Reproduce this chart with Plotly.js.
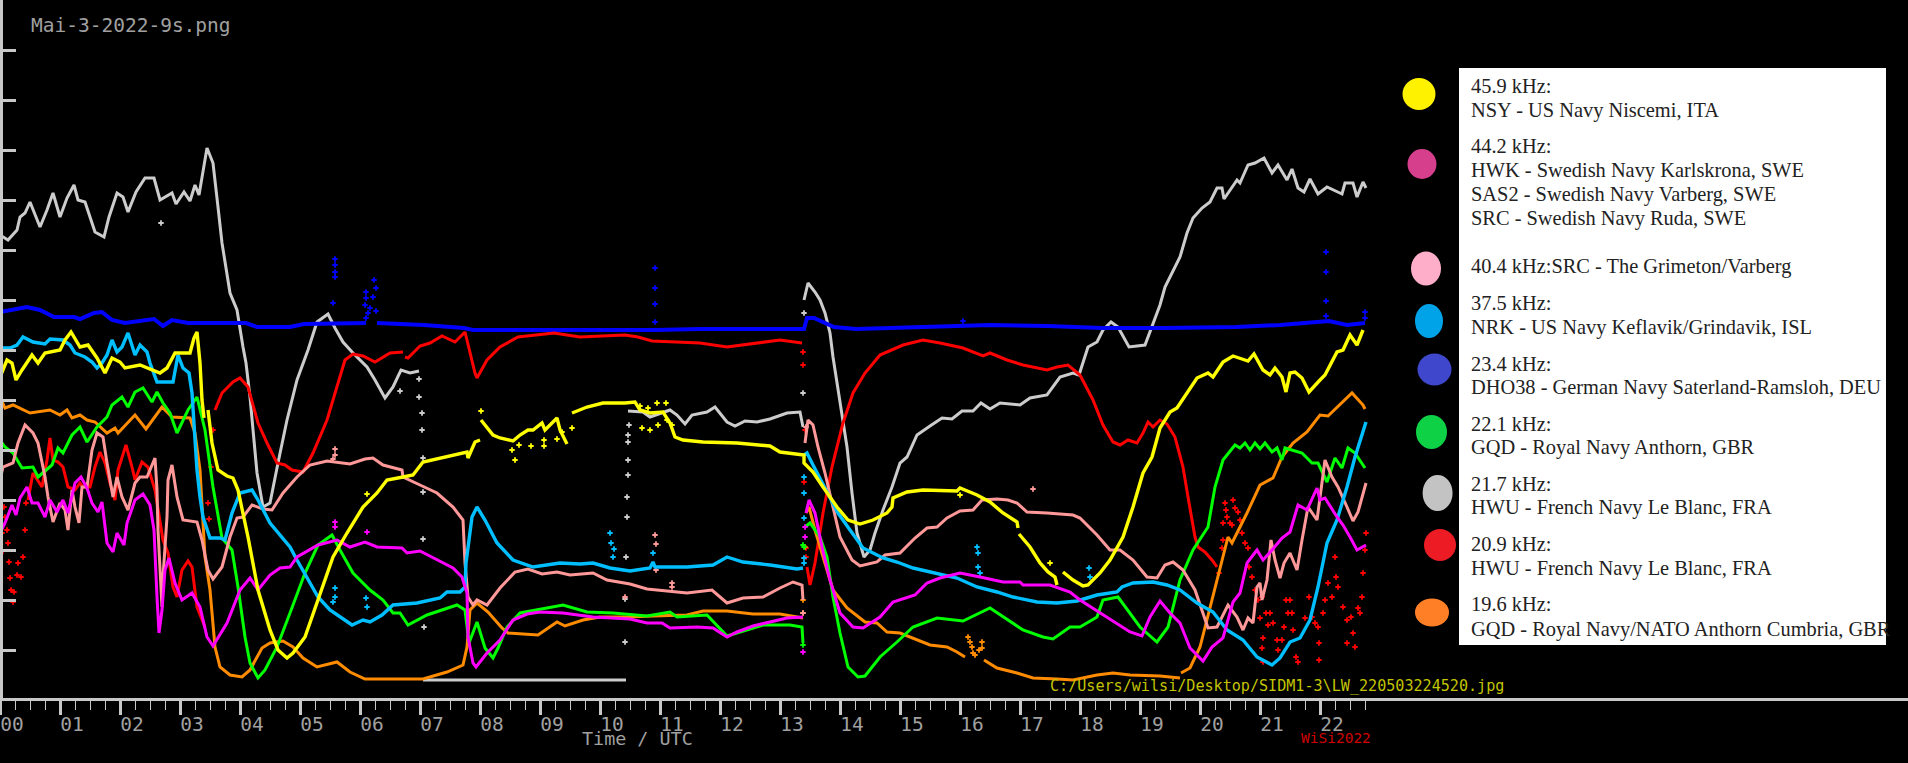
<!DOCTYPE html>
<html><head><meta charset="utf-8">
<script src="https://cdn.plot.ly/plotly-3.0.1.min.js"></script>
<style>html,body{margin:0;padding:0;background:#000;overflow:hidden}#c{width:1908px;height:763px}</style>
</head><body><div id="c"></div>
<script>
// Each point: [minutes UTC, relative signal level]
const hwu21_7 = [[0,465],[8,460],[17,470],[20,483],[25,487],[30,498],[40,473],[47,490],[53,507],[60,483],[67,502],[74,515],[78,500],[85,498],[95,468],[104,463],[109,483],[117,507],[123,503],[128,488],[136,508],[145,522],[154,522],[160,500],[172,507],[176,496],[184,508],[190,499],[195,515],[199,505],[207,552],[213,537],[218,493],[222,457],[230,407],[237,390],[243,353],[246,337],[250,303],[253,270],[257,227],[263,193],[270,197],[278,237],[287,280],[297,320],[308,350],[317,378],[328,386],[335,372],[343,358],[353,347],[367,333],[375,320],[385,302],[393,313],[401,330],[410,327],[419,329],[423,null],[423,20],[626,20],[627,null],[628,289],[643,288],[650,283],[670,290],[677,285],[685,276],[692,285],[707,288],[715,293],[727,278],[735,274],[745,279],[757,278],[770,281],[787,287],[800,288],[803,273],[803.5,null],[804,400],[808,417],[815,408],[820,400],[825,387],[830,367],[833,343],[838,310],[842,287],[847,253],[852,207],[857,167],[864,143],[870,150],[875,167],[883,190],[892,213],[900,237],[907,243],[917,265],[930,274],[942,282],[952,281],[962,289],[973,289],[981,297],[990,291],[1000,297],[1020,295],[1030,302],[1047,305],[1060,323],[1073,327],[1079,325],[1088,353],[1097,358],[1103,370],[1111,378],[1118,373],[1129,353],[1145,355],[1152,373],[1160,395],[1165,413],[1172,427],[1180,443],[1187,467],[1193,482],[1202,492],[1210,498],[1217,512],[1222,512],[1224,501],[1232,512],[1237,520],[1240,517],[1248,535],[1255,537],[1264,542],[1272,527],[1278,535],[1287,520],[1292,531],[1298,512],[1304,508],[1310,521],[1318,506],[1327,513],[1342,506],[1345,517],[1353,517],[1357,503],[1363,518],[1366,512]];
const hwu21_7Stray = [[419,321],[419,303],[422,287],[422,270],[423,242],[423,208],[423,161],[424,73],[400,309],[161,477],[627,183],[627,203],[628,225],[628,240],[628,258],[628,265],[629,275],[625,58],[625,101],[626,143],[803,307],[804,387]];

const dho23_4 = [[0,388],[27,393],[40,390],[54,383],[74,383],[80,381],[94,387],[102,388],[112,380],[125,377],[154,381],[163,374],[172,380],[188,377],[219,377],[246,377],[257,373],[290,373],[304,376],[366,377],[370,null],[377,377],[424,375],[464,372],[473,370],[655,370],[700,371],[804,371],[807,382],[814,382],[834,373],[856,371],[923,373],[990,375],[1048,374],[1102,372],[1164,372],[1236,373],[1280,375],[1329,379],[1347,375],[1365,377]];
const dho23_4Stray = [[335,441],[335,435],[335,428],[335,423],[333,397],[366,408],[366,402],[365,395],[368,387],[373,403],[374,420],[376,412],[370,392],[376,389],[366,382],[655,432],[655,412],[655,396],[655,378],[1326,448],[1326,428],[1326,399],[1326,384],[1365,388],[1365,382],[963,379]];

const hwu20_9 = [[28,200],[33,227],[42,213],[47,240],[50,262],[53,240],[58,238],[63,233],[68,213],[75,210],[80,217],[83,213],[90,213],[95,233],[100,248],[105,237],[110,217],[115,200],[118,230],[126,255],[132,233],[135,220],[142,238],[148,233],[155,210],[160,177],[163,160],[168,147],[173,113],[177,103],[182,130],[188,139],[192,133],[197,93],[202,80],[205,73],[210,null],[215,290],[222,307],[233,318],[240,322],[248,313],[258,277],[268,255],[277,237],[285,235],[292,230],[303,228],[313,247],[327,280],[337,313],[345,340],[353,346],[363,344],[375,338],[390,347],[403,348],[404,null],[405,343],[408,342],[420,354],[430,357],[442,364],[455,358],[465,368],[470,347],[475,327],[477,322],[487,340],[500,353],[518,363],[554,367],[580,363],[625,365],[638,363],[652,359],[700,357],[727,353],[758,357],[780,360],[802,357],[804,null],[807,133],[810,115],[815,137],[823,187],[832,233],[843,277],[853,307],[865,327],[880,345],[903,355],[923,360],[940,357],[963,352],[983,344],[990,347],[1007,340],[1023,335],[1047,330],[1057,333],[1068,335],[1080,325],[1093,300],[1103,275],[1113,258],[1120,255],[1128,260],[1137,257],[1143,267],[1148,278],[1153,273],[1160,280],[1167,276],[1175,263],[1183,233],[1188,203],[1195,163],[1198,153],[1205,148],[1212,140],[1217,133]];
const hwu20_9Stray = [[208,197],[213,270],[211,233],[209,181],[803,348],[803,335],[805,270],[804,218],[806,152],[806,143],
 [1,147],[2,167],[4,193],[5,183],[7,170],[8,157],[9,138],[10,122],[11,110],[13,98],[14,108],[17,125],[18,137],[21,123],[23,143],[25,170],[26,197],
 [1225,197],[1226,190],[1223,177],[1223,160],[1222,152],[1219,127],[1227,183],[1230,177],[1232,175],[1233,200],[1235,192],[1238,188],[1240,180],[1242,167],[1245,157],[1248,152],[1249,133],[1252,123],[1255,110],[1258,100],[1262,103],[1260,82],[1263,62],[1262,52],[1263,38],[1266,87],[1268,75],[1270,87],[1273,77],[1277,60],[1278,50],[1282,60],[1284,73],[1286,100],[1290,100],[1288,87],[1292,87],[1293,70],[1296,43],[1298,38],[1305,82],[1309,103],[1312,83],[1315,77],[1318,73],[1319,57],[1319,40],[1323,87],[1325,100],[1328,117],[1332,103],[1335,143],[1336,123],[1338,113],[1343,93],[1347,80],[1347,57],[1351,83],[1353,67],[1355,53],[1358,92],[1360,87],[1362,103],[1363,127],[1365,150],[1366,167]];

const gqd19_6 = [[0,303],[5,292],[13,295],[30,287],[50,290],[60,285],[67,290],[72,282],[80,285],[87,280],[95,278],[107,267],[115,272],[118,267],[135,285],[146,271],[162,293],[172,283],[190,282],[195,267],[200,230],[205,143],[210,110],[215,53],[220,33],[230,25],[242,23],[250,30],[262,52],[270,57],[283,59],[293,53],[303,42],[317,33],[337,38],[350,28],[365,21],[423,21],[447,28],[463,35],[467,53],[470,90],[477,97],[488,88],[502,72],[508,67],[538,65],[548,72],[557,78],[565,74],[583,80],[600,83],[627,83],[653,84],[687,85],[703,89],[727,89],[753,86],[780,86],[803,82],[804,null],[806,187],[809,193],[815,170],[823,143],[833,110],[847,92],[865,78],[877,77],[887,68],[900,67],[913,62],[930,55],[947,53],[957,48],[965,43],[966,null],[984,40],[997,32],[1017,27],[1033,22],[1057,21],[1073,20],[1097,25],[1113,27],[1130,25],[1160,24],[1180,22],[1180,null],[1181,27],[1190,32],[1200,53],[1212,100],[1223,143],[1228,163],[1232,157],[1247,187],[1260,215],[1273,222],[1282,243],[1293,257],[1307,268],[1320,285],[1328,284],[1343,298],[1352,307],[1363,295],[1365,291]];
const gqd19_6Stray = [[803,87],[803,100],[805,153],[968,63],[972,53],[975,45],[982,58],[970,58],[979,50],[973,47],[982,52]];

const gqd22_1 = [[0,260],[5,253],[13,247],[22,232],[33,233],[38,223],[52,235],[58,252],[63,247],[72,265],[80,273],[87,258],[97,273],[107,283],[112,295],[122,303],[128,293],[135,308],[143,312],[152,298],[157,308],[163,297],[170,287],[177,267],[188,290],[197,303],[205,270],[213,213],[222,162],[232,150],[238,113],[245,63],[250,37],[258,22],[265,30],[277,53],[290,87],[305,127],[318,155],[332,165],[340,150],[353,127],[370,110],[383,100],[393,87],[400,87],[408,75],[427,85],[457,95],[465,90],[469,57],[477,78],[485,52],[493,42],[498,52],[507,73],[520,87],[537,90],[563,95],[587,88],[613,87],[647,84],[670,88],[677,83],[707,85],[727,64],[747,70],[763,75],[790,75],[802,73],[803,57],[804,null],[805,173],[810,177],[820,163],[827,143],[833,103],[840,67],[848,33],[858,23],[865,24],[880,43],[897,58],[913,73],[937,82],[963,79],[990,92],[1003,83],[1023,70],[1043,63],[1053,61],[1070,73],[1080,73],[1097,83],[1103,100],[1118,103],[1140,73],[1157,58],[1168,73],[1180,120],[1193,150],[1208,173],[1215,213],[1223,240],[1235,255],[1240,252],[1245,257],[1250,250],[1255,257],[1260,251],[1265,257],[1272,248],[1277,252],[1282,240],[1285,252],[1302,247],[1312,237],[1318,237],[1327,218],[1335,242],[1342,232],[1348,252],[1355,247],[1365,232]];
const gqd22_1Stray = [[803,55],[803,155],[804,153]];

const grimeton40_4 = [[0,220],[3,233],[13,237],[18,257],[25,275],[33,267],[38,257],[42,237],[45,223],[48,203],[53,178],[60,197],[65,190],[68,170],[72,210],[75,193],[79,177],[82,213],[87,213],[92,250],[97,267],[103,263],[107,237],[113,203],[117,223],[122,203],[128,190],[135,217],[140,223],[147,223],[155,242],[157,210],[158,170],[162,93],[163,123],[167,183],[168,220],[172,235],[177,203],[183,180],[197,178],[202,160],[208,130],[213,121],[222,133],[230,163],[237,182],[243,183],[252,195],[263,191],[272,190],[283,207],[297,223],[310,235],[327,239],[350,236],[365,241],[373,242],[383,235],[402,230],[403,223],[420,215],[437,207],[453,193],[463,180],[465,137],[468,103],[473,95],[477,100],[487,95],[500,112],[515,128],[528,131],[542,126],[557,128],[570,125],[593,127],[607,120],[630,116],[647,111],[670,109],[687,107],[712,110],[727,97],[743,102],[763,103],[780,112],[793,118],[802,115],[803,100],[804,null],[805,257],[808,280],[813,275],[818,253],[825,227],[832,197],[840,163],[852,140],[860,134],[877,138],[885,145],[900,147],[915,162],[927,172],[937,173],[947,182],[960,189],[973,190],[982,200],[997,201],[1008,200],[1017,197],[1027,188],[1047,187],[1073,185],[1080,182],[1097,165],[1110,150],[1120,150],[1133,140],[1147,123],[1157,122],[1165,135],[1173,138],[1183,130],[1195,110],[1203,87],[1208,72],[1217,73],[1228,95],[1237,83],[1243,70],[1248,82],[1253,77],[1257,113],[1260,117],[1262,100],[1267,120],[1271,160],[1275,140],[1280,122],[1284,137],[1290,147],[1297,130],[1302,160],[1308,193],[1317,180],[1325,240],[1332,223],[1338,213],[1347,193],[1353,179],[1358,188],[1366,217]];
const grimeton40_4Stray = [[335,251],[335,245],[333,241],[655,165],[656,156],[656,130],[672,117],[672,113],[625,103],[1033,211],[803,87],[806,273]];

const nrk37_5 = [[0,352],[10,352],[17,355],[23,363],[33,358],[45,356],[50,361],[63,360],[70,355],[75,347],[85,343],[92,338],[97,332],[102,337],[107,345],[112,360],[117,348],[122,353],[128,367],[135,345],[140,355],[147,348],[150,337],[157,318],[173,318],[178,345],[183,332],[189,327],[192,307],[197,230],[200,203],[203,183],[210,162],[220,162],[225,160],[232,187],[240,207],[252,210],[258,200],[270,177],[290,153],[297,140],[318,103],[330,90],[352,75],[363,80],[370,78],[382,85],[393,95],[417,97],[440,102],[447,108],[460,108],[465,113],[466,137],[472,183],[477,193],[485,180],[497,157],[513,140],[533,133],[560,137],[580,136],[593,137],[610,132],[630,129],[650,132],[653,138],[655,133],[687,133],[713,135],[727,143],[743,138],[770,135],[797,131],[803,132],[803.5,null],[804,245],[807,247],[813,235],[828,207],[838,187],[850,170],[863,152],[883,142],[897,138],[913,132],[937,127],[957,122],[977,113],[997,108],[1013,103],[1037,98],[1057,97],[1077,99],[1097,105],[1117,108],[1122,113],[1133,117],[1153,118],[1167,115],[1180,110],[1197,97],[1213,88],[1227,70],[1243,60],[1257,43],[1272,35],[1280,42],[1290,58],[1300,62],[1310,80],[1318,113],[1327,157],[1337,180],[1347,213],[1355,243],[1366,278]];
const nrk37_5Stray = [[335,112],[335,103],[333,98],[366,102],[367,93],[610,167],[611,157],[614,151],[613,143],[653,147],[977,153],[978,147],[978,133],[980,127],[1089,132],[1090,123],[804,223],[804,207],[804,182],[804,142],[804,137]];

const hwk44_2 = [[0,167],[5,177],[12,195],[16,185],[20,202],[27,213],[32,197],[38,197],[45,183],[50,200],[57,188],[63,200],[68,187],[75,217],[81,223],[87,212],[92,197],[98,188],[102,198],[107,157],[113,148],[117,167],[124,155],[127,177],[135,200],[143,206],[150,195],[154,170],[157,103],[159,67],[162,90],[165,130],[169,142],[175,117],[182,100],[192,107],[200,93],[207,63],[213,54],[227,77],[240,110],[250,122],[258,110],[270,125],[280,132],[290,133],[297,143],[318,155],[337,160],[350,153],[365,158],[377,153],[402,152],[407,147],[420,149],[433,142],[453,132],[462,123],[467,107],[468,63],[473,37],[476,33],[487,47],[500,60],[513,80],[527,86],[540,88],[563,87],[593,83],[630,81],[647,77],[662,77],[670,72],[697,73],[713,72],[727,63],[737,68],[753,74],[770,78],[787,82],[803,83],[804,null],[806,187],[809,200],[815,187],[822,153],[830,120],[840,87],[853,73],[863,72],[880,83],[893,98],[915,105],[927,117],[940,122],[960,127],[980,123],[1003,118],[1020,118],[1023,115],[1050,115],[1070,108],[1080,100],[1100,87],[1118,75],[1130,68],[1142,64],[1150,83],[1160,99],[1170,87],[1180,77],[1190,52],[1203,39],[1212,53],[1223,62],[1233,98],[1240,107],[1247,137],[1257,150],[1263,140],[1272,150],[1282,162],[1290,168],[1298,195],[1307,190],[1317,212],[1320,200],[1325,202],[1337,183],[1343,175],[1350,163],[1357,150],[1366,155]];
const hwk44_2Stray = [[335,178],[335,173],[367,168],[803,48],[805,173],[805,163]];

const nsy45_9 = [[0,323],[7,340],[12,337],[16,320],[22,330],[32,345],[38,337],[45,347],[60,350],[65,360],[71,368],[80,353],[88,355],[97,342],[105,327],[112,342],[120,338],[125,332],[140,335],[148,332],[160,327],[167,332],[175,347],[190,347],[194,362],[197,368],[200,337],[202,300],[204,282],[206,null],[208,290],[212,257],[218,230],[227,224],[233,222],[238,210],[248,163],[258,110],[270,70],[278,50],[287,42],[293,47],[305,63],[317,97],[333,143],[347,167],[363,193],[377,207],[387,220],[403,223],[413,225],[423,238],[447,243],[467,248],[468,242],[475,258],[480,260],[480,null],[481,280],[493,265],[500,262],[513,259],[520,265],[528,270],[533,270],[542,277],[545,270],[557,282],[560,270],[567,256],[569,null],[572,287],[587,293],[603,297],[625,297],[635,298],[640,290],[650,287],[663,288],[670,277],[675,263],[683,260],[703,258],[737,257],[770,254],[780,248],[804,245],[804,237],[813,228],[823,213],[837,193],[848,180],[860,176],[873,180],[887,187],[892,193],[893,202],[907,208],[923,210],[957,209],[960,212],[977,205],[990,198],[1003,187],[1017,178],[1018,172],[1018,null],[1019,166],[1030,153],[1040,137],[1048,128],[1055,123],[1057,115],[1060,null],[1063,128],[1073,120],[1083,114],[1088,115],[1100,127],[1110,140],[1123,163],[1133,193],[1143,227],[1152,243],[1160,272],[1170,288],[1177,292],[1197,322],[1208,327],[1213,323],[1223,338],[1233,344],[1242,341],[1248,339],[1254,346],[1263,330],[1270,325],[1275,332],[1282,323],[1286,308],[1290,327],[1295,328],[1302,322],[1309,308],[1320,320],[1325,325],[1337,348],[1343,350],[1350,365],[1357,355],[1363,370]];
const nsy45_9Stray = [[640,294],[648,292],[657,297],[666,297],[642,272],[650,270],[658,275],[667,280],[672,275],[512,250],[515,240],[519,255],[531,254],[544,260],[544,254],[481,289],[572,272],[557,261],[562,268],[367,206],[1050,137],[960,205]];

const hourLabels = ['00','01','02','03','04','05','06','07','08','09','10','11','12','13','14','15','16','17','18','19','20','21','22'];
const legendLines = [
 ['45.9 kHz:',614],['NSY - US Navy Niscemi, ITA',590],
 ['44.2 kHz:',554],['HWK - Swedish Navy Karlskrona, SWE',530],['SAS2 - Swedish Navy Varberg, SWE',506],['SRC - Swedish Navy Ruda, SWE',482],
 ['40.4 kHz:SRC - The Grimeton/Varberg',434],
 ['37.5 kHz:',397],['NRK - US Navy Keflavik/Grindavik, ISL',373],
 ['23.4 kHz:',336],['DHO38 - German Navy Saterland-Ramsloh, DEU',313],
 ['22.1 kHz:',276],['GQD - Royal Navy Anthorn, GBR',253],
 ['21.7 kHz:',216],['HWU - French Navy Le Blanc, FRA',193],
 ['20.9 kHz:',156],['HWU - French Navy Le Blanc, FRA',132],
 ['19.6 kHz:',96],['GQD - Royal Navy/NATO Anthorn Cumbria, GBR',71]
];
const legendSwatches = [
 ['#FFF200',1419,606,16.5,16],['#D63F8C',1422,536,14.5,15],['#FFAEC9',1426,431.5,15,17],
 ['#00A2E8',1429,379,14,17],['#3F48CC',1434.5,330.5,17,16],['#0ED145',1431.5,268,15.5,17],
 ['#C3C3C3',1437.6,207,15,18],['#ED1C24',1440,155,16,16],['#FF7F27',1432,87.5,17,14]
];

const series = [
 ['21.7 kHz', hwu21_7, hwu21_7Stray, '#CCCCCC', 3],
 ['23.4 kHz', dho23_4, dho23_4Stray, '#0000FF', 4],
 ['20.9 kHz', hwu20_9, hwu20_9Stray, '#FF0000', 3],
 ['19.6 kHz', gqd19_6, gqd19_6Stray, '#FF8C00', 3],
 ['22.1 kHz', gqd22_1, gqd22_1Stray, '#00FF00', 3],
 ['40.4 kHz', grimeton40_4, grimeton40_4Stray, '#FF9999', 3],
 ['37.5 kHz', nrk37_5, nrk37_5Stray, '#00BFFF', 3.4],
 ['44.2 kHz', hwk44_2, hwk44_2Stray, '#FF00FF', 3],
 ['45.9 kHz', nsy45_9, nsy45_9Stray, '#FFFF00', 3.4]
];

const traces = [];
series.forEach(([name, pts, stray, color, width]) => {
  traces.push({type:'scatter', mode:'lines', name, x:pts.map(p=>p[0]), y:pts.map(p=>p[1]),
    line:{color, width}, connectgaps:false, hoverinfo:'skip'});
  if (stray.length) traces.push({type:'scatter', mode:'markers', name:name+' stray', x:stray.map(p=>p[0]), y:stray.map(p=>p[1]),
    marker:{symbol:'cross', size:4.5, color}, hoverinfo:'skip'});
});

const axisGrey = '#C8C8C8', textGrey = '#A0A0A0', mono = '"DejaVu Sans Mono", monospace';
const majorVals = hourLabels.map((_, i) => i * 60);
const minorVals = [];
for (let m = 0; m <= 1365; m += 15) minorVals.push(m);
const levelVals = [];
for (let v = 50; v <= 650; v += 50) levelVals.push(v);

const shapes = [
  {type:'rect', xref:'x', yref:'y', x0:0, x1:3, y0:2, y1:700, fillcolor:axisGrey, line:{width:0}, layer:'above'},
  {type:'rect', xref:'x', yref:'y', x0:1459, x1:1886, y0:55, y1:632, fillcolor:'#FFFFFF', line:{width:0}, layer:'above'}
];
legendSwatches.forEach(([c,x,y,rx,ry]) => shapes.push({type:'circle', xref:'x', yref:'y', x0:x-rx, x1:x+rx, y0:y-ry, y1:y+ry, fillcolor:c, line:{width:0}, layer:'above'}));

const annotations = legendLines.map(([text,y]) => ({xref:'x', yref:'y', x:1469, y, text, showarrow:false, xanchor:'left', yanchor:'middle',
  font:{family:'"Liberation Serif", serif', size:20.4, color:'#222222'}}));
const paperNote = (text, xpx, ypx, size, color) => ({xref:'x', yref:'paper', x:xpx, y:(698-ypx)/698, text, showarrow:false, xanchor:'left', yanchor:'middle', font:{family:mono, size, color}});
annotations.push(paperNote('Time / UTC', 580, 738, 18.4, textGrey));
annotations.push(paperNote('C:/Users/wilsi/Desktop/SIDM1-3\\LW_220503224520.jpg', 1048, 686, 15.1, '#C4C400'));
annotations.push(paperNote('WiSi2022', 1299, 738, 14.5, '#D00000'));

const layout = {
  width:1908, height:763, showlegend:false, hovermode:false,
  paper_bgcolor:'#000000', plot_bgcolor:'#000000',
  margin:{l:0, r:0, t:0, b:65, pad:0},
  title:{text:'Mai-3-2022-9s.png', x:31/1908, xref:'paper', xanchor:'left', y:1-25/763, yref:'container', yanchor:'middle',
    font:{family:mono, size:19.5, color:textGrey}, pad:{l:0,r:0,t:0,b:0}},
  xaxis:{range:[0,1908], showgrid:false, zeroline:false, showline:true, linecolor:axisGrey, linewidth:3,
    tickmode:'array', tickvals:majorVals, ticktext:hourLabels, ticks:'outside', ticklen:14, tickwidth:3, tickcolor:axisGrey,
    ticklabelshift:12, ticklabelstandoff:-7, tickangle:0, tickfont:{family:mono, size:19.5, color:textGrey},
    minor:{tickmode:'array', tickvals:minorVals, ticks:'outside', ticklen:9, tickwidth:1, tickcolor:axisGrey, showgrid:false}},
  yaxis:{range:[2,700], showgrid:false, zeroline:false, showline:false, tickmode:'array', tickvals:levelVals, showticklabels:false,
    ticks:'inside', ticklen:16, tickwidth:3, tickcolor:axisGrey},
  shapes, annotations
};
Plotly.newPlot('c', traces, layout, {displayModeBar:false, staticPlot:true});
</script></body></html>
